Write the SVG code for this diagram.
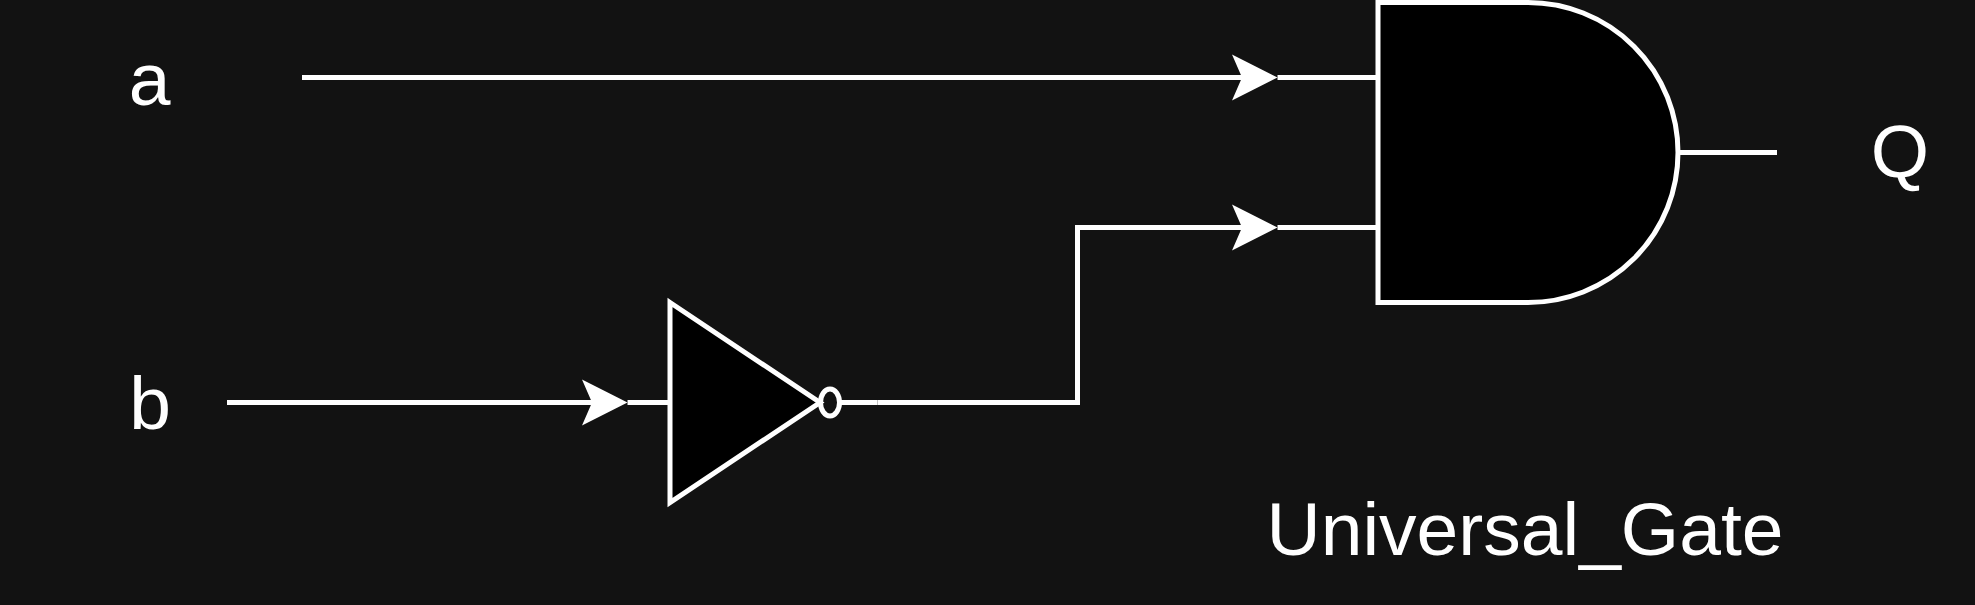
<svg xmlns="http://www.w3.org/2000/svg" width="1975" height="605" viewBox="0 0 1975 605">
  <style>
    .wire { fill: none; stroke: #ffffff; stroke-width: 5; stroke-miterlimit: 10; }
    .shape { fill: #000000; stroke: #ffffff; stroke-width: 5; stroke-miterlimit: 10; }
    .label { font-family: "Liberation Sans", Arial, sans-serif; font-size: 75px; fill: #ffffff; text-anchor: middle; }
  </style>
  <defs>
    <marker id="arrow" markerUnits="userSpaceOnUse" markerWidth="46" markerHeight="46" viewBox="0 0 46 46" refX="38" refY="23" orient="auto" overflow="visible">
      <path d="M45.5,23 L0,0 L10,23 L0,46 Z" fill="#ffffff"/>
    </marker>
  </defs>
  <rect id="background" width="1975" height="605" fill="#121212"/>
  <g id="connectors">
    <path class="wire" d="M302,77.5 H1270" marker-end="url(#arrow)"/>
    <path class="wire" d="M1277.5,77.5 H1378"/>
    <path class="wire" d="M227,402.5 H620" marker-end="url(#arrow)"/>
    <path class="wire" d="M627.5,402.5 H670"/>
    <path class="wire" d="M841,402.5 H877.5"/>
    <path class="wire" d="M877.5,402.5 H1077.5 V227.5 H1270" marker-end="url(#arrow)"/>
    <path class="wire" d="M1277.5,227.5 H1378"/>
    <path class="wire" d="M1678,152.5 H1777"/>
  </g>
  <g id="and-gate">
    <path class="shape" d="M1378,2.5 H1528 A150,150 0 0 1 1528,302.5 H1378 Z"/>
  </g>
  <g id="not-gate">
    <path class="shape" d="M670,302.5 L820,402.5 L670,502.5 Z"/>
    <ellipse class="shape" cx="830" cy="402.5" rx="9.5" ry="13.5" style="fill:none"/>
  </g>
  <g id="label-a"><text class="label" x="149.5" y="105">a</text></g>
  <g id="label-b"><text class="label" x="150" y="429">b</text></g>
  <g id="label-q"><text class="label" x="1900" y="177">Q</text></g>
  <g id="label-universal-gate"><text class="label" x="1525" y="555">Universal_Gate</text></g>
</svg>
